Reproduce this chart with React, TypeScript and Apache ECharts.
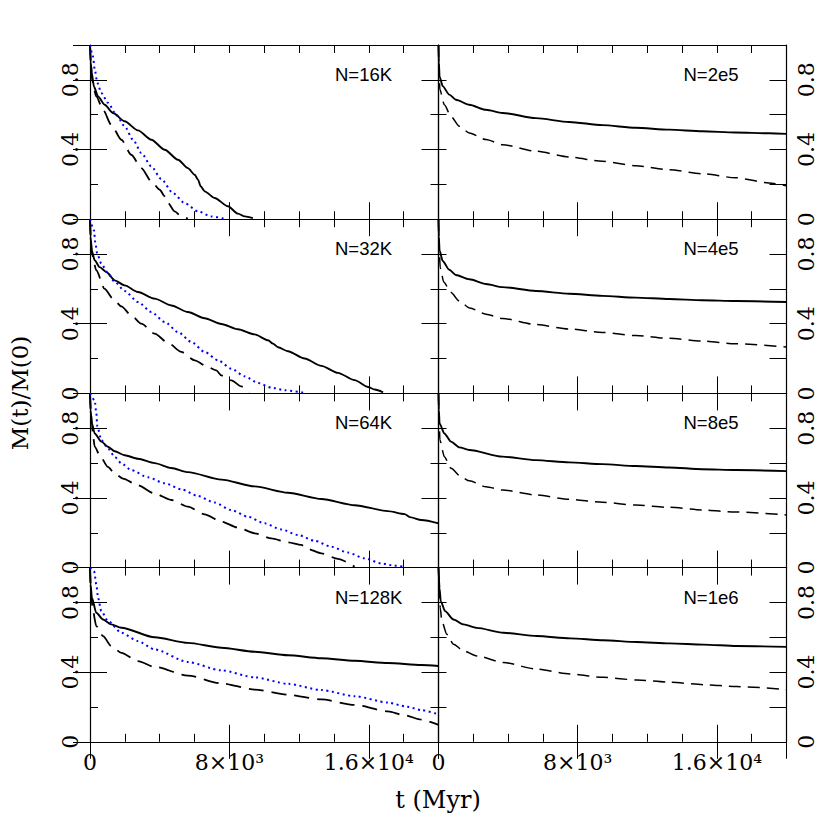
import React, { useEffect, useRef } from 'react';
import * as echarts from 'echarts';

// ---- tick labels ----
const xTickValues = [0, 8000, 16000];
const xTickLabels = ['0', '8×10³', '1.6×10⁴'];
const yTickValues = [0, 0.4, 0.8];
const yTickLabels = ['0', '0.4', '0.8'];
const panelLabels = ['N=16K', 'N=2e5', 'N=32K', 'N=4e5', 'N=64K', 'N=8e5', 'N=128K', 'N=1e6'];
const xTitle = 't (Myr)';
const yTitle = 'M(t)/M(0)';

// ---- data: [t (Myr), M(t)/M(0)] ----
const solid16K = [[0,1],[40,0.9],[100,0.84],[230,0.76],[460,0.705],[840,0.657],[1320,0.61],[1990,0.562],[2750,0.51],[3520,0.456],[4290,0.399],[5050,0.341],[5620,0.293],[6010,0.255],[6200,0.227],[6350,0.189],[6580,0.16],[7150,0.122],[7920,0.074],[8490,0.032],[8880,0.016],[9350,0.006]];
const dashed16K = [[0,1],[60,0.88],[115,0.8],[360,0.705],[750,0.628],[1220,0.542],[1800,0.456],[2370,0.37],[2950,0.293],[3520,0.217],[4000,0.169],[4290,0.131],[4480,0.093],[4860,0.045],[5240,0.016],[5620,0.004]];
const dotted16K = [[0,1],[170,0.935],[270,0.86],[420,0.783],[650,0.725],[1030,0.668],[1510,0.6],[1990,0.533],[2470,0.456],[2950,0.38],[3520,0.303],[4090,0.23],[4760,0.15],[5430,0.093],[6200,0.045],[6960,0.016],[7730,0.002]];

const solid32K = [[0,1],[30,0.9],[100,0.82],[270,0.764],[555,0.725],[940,0.697],[1420,0.649],[1990,0.62],[2750,0.582],[3710,0.544],[4670,0.505],[5620,0.467],[6580,0.431],[7540,0.398],[8490,0.368],[9450,0.339],[10220,0.305],[10500,0.286],[10790,0.265],[11360,0.242],[12320,0.2],[13280,0.158],[14230,0.118],[15190,0.076],[15950,0.037],[16340,0.022],[16820,0.006]];
const dashed32K = [[0,1],[50,0.88],[110,0.8],[360,0.707],[840,0.6],[1320,0.543],[1800,0.499],[2370,0.448],[2950,0.4],[3710,0.343],[4480,0.29],[5240,0.238],[6010,0.19],[6770,0.151],[7250,0.132],[7540,0.103],[8110,0.075],[8690,0.04],[9160,0.008]];
const dotted32K = [[0,1],[230,0.936],[310,0.86],[420,0.8],[650,0.745],[1030,0.688],[1420,0.64],[1990,0.588],[2750,0.525],[3520,0.467],[4290,0.41],[5050,0.352],[5820,0.295],[6580,0.238],[7350,0.19],[8110,0.142],[8880,0.098],[9640,0.06],[10410,0.033],[11170,0.018],[12320,0.003]];

const solid64K = [[0,1],[30,0.904],[110,0.828],[270,0.77],[650,0.723],[1030,0.694],[1420,0.668],[1990,0.645],[2750,0.625],[3710,0.6],[4670,0.572],[5620,0.548],[7540,0.505],[9450,0.466],[11360,0.43],[13280,0.394],[15190,0.358],[17100,0.324],[18060,0.307],[18350,0.29],[19020,0.273],[20000,0.254]];
const dashed64K = [[0,1],[60,0.88],[110,0.82],[170,0.76],[270,0.694],[555,0.645],[1030,0.578],[1420,0.54],[1890,0.511],[2750,0.473],[3710,0.425],[4670,0.388],[5620,0.35],[6580,0.306],[7540,0.264],[8490,0.23],[9450,0.197],[10410,0.168],[11360,0.145],[12130,0.13],[12510,0.107],[13280,0.082],[14230,0.05],[15190,0.005]];
const dotted64K = [[0,1],[270,0.96],[365,0.885],[420,0.81],[650,0.732],[1030,0.684],[1420,0.636],[1800,0.598],[2370,0.56],[3330,0.518],[4290,0.484],[5240,0.449],[6200,0.411],[7150,0.373],[8110,0.33],[9070,0.292],[10020,0.254],[10980,0.219],[11940,0.187],[12890,0.154],[13850,0.12],[14810,0.086],[15760,0.053],[16720,0.024],[17480,0.011],[18060,0.005]];

const solid128K = [[0,1],[30,0.904],[110,0.827],[360,0.741],[750,0.702],[1220,0.674],[1800,0.655],[3710,0.6],[5620,0.568],[7540,0.54],[9450,0.517],[11360,0.497],[13280,0.48],[15190,0.465],[17100,0.452],[19020,0.441],[20000,0.435]];
const dashed128K = [[0,1],[40,0.88],[70,0.83],[170,0.75],[360,0.664],[750,0.607],[1220,0.549],[1800,0.511],[2750,0.463],[3710,0.43],[5620,0.38],[7540,0.335],[9450,0.3],[11360,0.27],[13280,0.243],[15190,0.212],[17100,0.175],[18060,0.152],[19020,0.127],[20000,0.097]];
const dotted128K = [[0,1],[230,0.98],[365,0.904],[460,0.827],[650,0.75],[1030,0.693],[1800,0.626],[2750,0.578],[3710,0.53],[5620,0.458],[7540,0.41],[9450,0.37],[11360,0.333],[13280,0.297],[15190,0.262],[17100,0.225],[18180,0.202],[19020,0.182],[20000,0.157]];

const solid2e5 = [[0,1],[20,0.9],[60,0.82],[240,0.764],[620,0.715],[1000,0.686],[1770,0.657],[2730,0.628],[3680,0.61],[5600,0.58],[7510,0.558],[9420,0.54],[11330,0.525],[13250,0.514],[15160,0.505],[17070,0.498],[18990,0.493],[20000,0.49]];
const dashed2e5 = [[0,1],[30,0.85],[80,0.743],[335,0.657],[720,0.59],[1200,0.533],[1770,0.495],[2730,0.457],[3680,0.428],[5600,0.39],[7510,0.357],[9420,0.332],[11330,0.307],[13250,0.284],[15160,0.261],[17070,0.238],[18990,0.208],[20000,0.192]];

const solid4e5 = [[0,1],[20,0.9],[60,0.82],[240,0.76],[620,0.71],[1000,0.68],[1770,0.655],[2730,0.628],[3680,0.61],[5600,0.588],[7510,0.572],[9420,0.56],[11330,0.55],[13250,0.542],[15160,0.535],[17070,0.53],[20000,0.525]];
const dashed4e5 = [[0,1],[30,0.85],[100,0.72],[300,0.64],[700,0.58],[1200,0.53],[1800,0.49],[2730,0.455],[3680,0.43],[5600,0.395],[7510,0.37],[9420,0.35],[11330,0.332],[13250,0.316],[15160,0.3],[17070,0.285],[20000,0.266]];

const solid8e5 = [[0,1],[20,0.905],[60,0.828],[335,0.77],[720,0.723],[1200,0.69],[1770,0.675],[3680,0.637],[5600,0.617],[7510,0.604],[9420,0.594],[11330,0.583],[13250,0.575],[15160,0.565],[17070,0.56],[20000,0.554]];
const dashed8e5 = [[0,1],[40,0.83],[80,0.732],[335,0.637],[720,0.57],[1290,0.522],[1770,0.498],[2730,0.464],[3680,0.445],[5600,0.417],[7510,0.392],[9420,0.375],[11330,0.359],[13250,0.346],[15160,0.331],[17070,0.319],[20000,0.302]];

const solid1e6 = [[0,1],[60,0.882],[130,0.806],[380,0.75],[860,0.702],[1440,0.674],[2200,0.654],[3730,0.626],[5650,0.607],[7560,0.594],[9470,0.583],[11390,0.573],[13300,0.565],[15220,0.558],[17130,0.55],[20000,0.545]];
const dashed1e6 = [[0,1],[60,0.85],[100,0.77],[190,0.693],[480,0.617],[860,0.56],[1440,0.522],[2200,0.493],[3730,0.455],[5650,0.417],[7560,0.389],[9470,0.37],[11390,0.355],[13300,0.342],[15220,0.328],[17130,0.317],[20000,0.3]];

const panelSolid = [solid16K, solid2e5, solid32K, solid4e5, solid64K, solid8e5, solid128K, solid1e6];
const panelDashed = [dashed16K, dashed2e5, dashed32K, dashed4e5, dashed64K, dashed8e5, dashed128K, dashed1e6];
const panelDotted = [dotted16K, null, dotted32K, null, dotted64K, null, dotted128K, null];

const SERIF = 'DejaVu Serif';
const SANS = 'Liberation Sans';

function findLabel(values: number[], labels: string[], v: number) {
  for (let i = 0; i < values.length; i++) {
    if (Math.abs(values[i] - v) < 1e-6) return labels[i];
  }
  return '';
}

export default function App() {
  const ref = useRef<HTMLDivElement>(null);
  useEffect(() => {
    const chart = echarts.init(ref.current!, null, { renderer: 'svg' });
    const colLeft = [90, 438.5];
    const colWidth = [348.5, 348];
    const top0 = 45;
    const rowH = 174.2;
    const grids: any[] = [];
    const xAxes: any[] = [];
    const yAxes: any[] = [];
    const series: any[] = [];
    const graphics: any[] = [];
    const black = '#000';
    const frameW = 1.2;

    for (let i = 0; i < 8; i++) {
      const r = Math.floor(i / 2);
      const c = i % 2;
      grids.push({ left: colLeft[c], top: top0 + r * rowH, width: colWidth[c], height: rowH, containLabel: false });
      const xBase = {
        gridIndex: i, type: 'value', min: 0, max: 20000,
        splitLine: { show: false },
      };
      const xLab = {
        show: r === 3, margin: 10, color: black, fontFamily: SERIF, fontSize: 22,
        showMinLabel: true, showMaxLabel: true,
        formatter: (v: number) => findLabel(xTickValues, xTickLabels, v),
      };
      xAxes.push({ ...xBase, position: 'bottom', interval: 2000,
        axisLine: { show: true, onZero: false, lineStyle: { color: black, width: frameW } },
        axisTick: { show: true, inside: true, length: 8, lineStyle: { color: black, width: 1 } },
        axisLabel: xLab });
      xAxes.push({ ...xBase, position: 'bottom', interval: 8000,
        axisLine: { show: false },
        axisTick: { show: true, inside: true, length: 17, lineStyle: { color: black, width: 1 } },
        axisLabel: { show: false } });
      xAxes.push({ ...xBase, position: 'top', interval: 2000,
        axisLine: { show: true, onZero: false, lineStyle: { color: black, width: frameW } },
        axisTick: { show: true, inside: true, length: 8, lineStyle: { color: black, width: 1 } },
        axisLabel: { show: false } });
      xAxes.push({ ...xBase, position: 'top', interval: 8000,
        axisLine: { show: false },
        axisTick: { show: true, inside: true, length: 17, lineStyle: { color: black, width: 1 } },
        axisLabel: { show: false } });

      const yBase = { gridIndex: i, type: 'value', min: 0, max: 1, splitLine: { show: false } };
      const yLab = (show: boolean) => ({
        show, rotate: 90, margin: 9, color: black, fontFamily: SERIF, fontSize: 22,
        showMinLabel: true, showMaxLabel: true,
        formatter: (v: number) => findLabel(yTickValues, yTickLabels, v),
      });
      yAxes.push({ ...yBase, position: 'left', interval: 0.2,
        axisLine: { show: true, onZero: false, lineStyle: { color: black, width: frameW } },
        axisTick: { show: true, inside: true, length: 8, lineStyle: { color: black, width: 1 } },
        axisLabel: yLab(c === 0) });
      yAxes.push({ ...yBase, position: 'left', interval: 0.4,
        axisLine: { show: false },
        axisTick: { show: c === 0, inside: true, length: 17, lineStyle: { color: black, width: 1 } },
        axisLabel: { show: false } });
      yAxes.push({ ...yBase, position: 'right', interval: 0.2,
        axisLine: { show: true, onZero: false, lineStyle: { color: black, width: frameW } },
        axisTick: { show: true, inside: true, length: c === 1 ? 17 : 8, lineStyle: { color: black, width: 1 } },
        axisLabel: yLab(c === 1) });
      yAxes.push({ ...yBase, position: 'right', interval: 0.4,
        axisLine: { show: false },
        axisTick: { show: true, inside: true, length: 17, lineStyle: { color: black, width: 1 } },
        axisLabel: { show: false } });

      const ax = { xAxisIndex: i * 4, yAxisIndex: i * 4 };
      series.push({
        type: 'line', ...ax, data: panelSolid[i], symbol: 'none', silent: true,
        smooth: 0.25, smoothMonotone: 'x',
        lineStyle: { color: black, width: 1.9, type: 'solid' },
      });
      series.push({
        type: 'line', ...ax, data: panelDashed[i], symbol: 'none', silent: true,
        smooth: 0.25, smoothMonotone: 'x',
        lineStyle: { color: black, width: c === 0 ? 1.8 : 1.5, type: c === 0 ? [15, 8] : [12, 7] },
      });
      const dotted = panelDotted[i];
      if (dotted) {
        series.push({
          type: 'line', ...ax, data: dotted, symbol: 'none', silent: true,
          smooth: 0.25, smoothMonotone: 'x',
          lineStyle: { color: '#0000ff', width: 2, type: [2, 3.5] },
        });
      }
      graphics.push({
        type: 'text', x: colLeft[c] + 245, y: top0 + r * rowH + 29.5,
        style: { text: panelLabels[i], fill: black, font: `18.5px "${SANS}"`, textAlign: 'left', textVerticalAlign: 'middle' },
      });
    }

    graphics.push({
      type: 'text', x: 438, y: 800,
      style: { text: xTitle, fill: black, font: `24px "${SERIF}"`, textAlign: 'center', textVerticalAlign: 'middle' },
    });
    graphics.push({
      type: 'text', x: 20, y: 393, rotation: Math.PI / 2,
      style: { text: yTitle, fill: black, font: `23px "${SERIF}"`, textAlign: 'center', textVerticalAlign: 'middle' },
    });

    chart.setOption({
      animation: false,
      backgroundColor: '#fff',
      grid: grids,
      xAxis: xAxes,
      yAxis: yAxes,
      series,
      graphic: graphics,
    });
    return () => chart.dispose();
  }, []);
  return <div ref={ref} style={{ position: 'fixed', left: 0, top: 0, width: 830, height: 830, background: '#fff' }} />;
}
